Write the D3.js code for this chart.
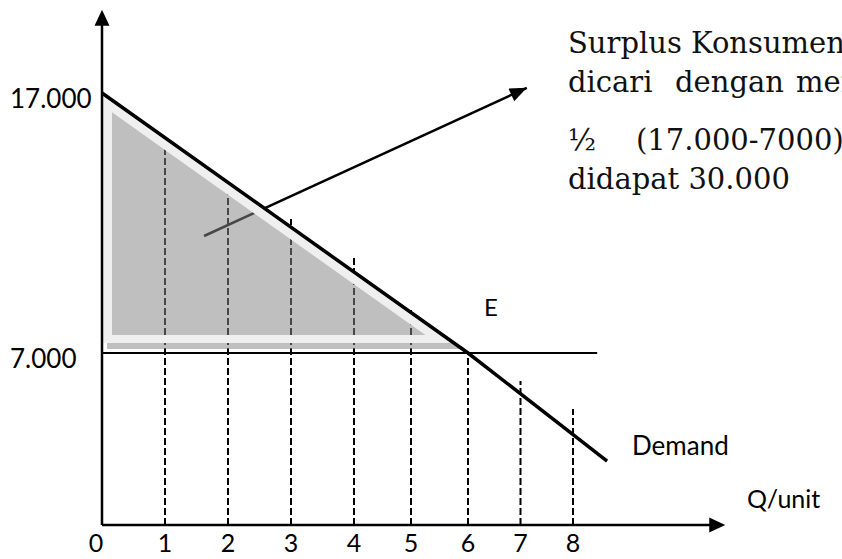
<!DOCTYPE html>
<html>
<head>
<meta charset="utf-8">
<script src="https://cdn.jsdelivr.net/npm/d3@7"></script>
<style>
  html, body { margin: 0; padding: 0; background: #fff; }
  svg { display: block; overflow: hidden; }
</style>
</head>
<body>
<div id="chart"></div>
<script>
// data
const qTicks = [0, 1, 2, 3, 4, 5, 6, 7, 8];
const priceTicks = [17000, 7000];
const priceLabels = ['17.000', '7.000'];
const dashQ = [1, 2, 3, 4, 5, 6, 7, 8];
const dashTop = [15000, 13400, 12150, 10650, 8650, 7000, 5860, 4720];
const demandQ = [0, 6, 8.65];
const demandP = [17000, 7000, 2600];
const eqPrice = 7000;
const eqQ = 6;
const priceLineEnd = 8.46;
const axisMaxQ = 10.9;
const axisMaxP = 20200;
const arrowFrom = [1.62, 11500];
const arrowTo = [7.12, 17200];
const noteLines = [
    ['Surplus Konsumen'],
    ['dicari', 'dengan', 'menggunakan'],
    ['½', '(17.000-7000)'],
    ['didapat 30.000']
];

const width = 842, height = 559;
const svg = d3.select('#chart').append('svg')
    .attr('width', width)
    .attr('height', height);

// hand drawn axes: spacing is not even, so piecewise scales
const x = d3.scaleLinear().domain([0, 4, 6, 8]).range([102, 354, 468, 573]);
const y = d3.scaleLinear().domain([0, 7000, 17000]).range([525, 353, 93]);

const labelFont = 'Lato, "Open Sans", sans-serif';
const noteFont = '"DejaVu Serif", serif';

// triangle of consumer surplus, shrunk by pixel insets
const A = [x(0), y(demandP[0])], B = [x(0), y(eqPrice)], C = [x(eqQ), y(eqPrice)];
function insetTri(l, b, h) {
    const len = Math.hypot(C[0] - A[0], C[1] - A[1]);
    const dx = (C[0] - A[0]) / len, dy = (C[1] - A[1]) / len;
    const ax = A[0] - dy * h, ay = A[1] + dx * h;
    const X = A[0] + l, Y = B[1] - b;
    const p1 = [X, ay + (X - ax) / dx * dy];
    const p3 = [ax + (Y - ay) / dy * dx, Y];
    return [p1, [X, Y], p3];
}
const polyPath = pts => 'M' + pts.map(p => p.join(',')).join('L') + 'Z';

const shadow = insetTri(5, 4, 0);
const lightOuter = insetTri(1, 10, 1);
const lightInner = insetTri(10, 18, 10);

svg.append('clipPath').attr('id', 'shade-clip')
    .append('path').attr('d', polyPath(shadow));

function drawDashes(g, color) {
    g.selectAll('line.dash')
        .data(dashQ)
        .enter()
        .append('line')
        .attr('class', 'dash')
        .attr('x1', d => x(d))
        .attr('x2', d => x(d))
        .attr('y1', y(0))
        .attr('y2', (d, i) => y(dashTop[i]))
        .attr('stroke', color)
        .attr('stroke-width', 2)
        .attr('stroke-dasharray', '7,3');
}

function drawPointer(g, color, w) {
    g.append('line')
        .attr('x1', x(arrowFrom[0]))
        .attr('y1', y(arrowFrom[1]))
        .attr('x2', x(arrowTo[0]))
        .attr('y2', y(arrowTo[1]))
        .attr('stroke', color)
        .attr('stroke-width', w);
}

function arrowHead(tip, from, len, half) {
    const a = Math.atan2(tip[1] - from[1], tip[0] - from[0]);
    const bx = tip[0] - Math.cos(a) * len, by = tip[1] - Math.sin(a) * len;
    const nx = -Math.sin(a) * half, ny = Math.cos(a) * half;
    svg.append('path')
        .attr('d', polyPath([tip, [bx + nx, by + ny], [bx - nx, by - ny]]))
        .attr('fill', '#000');
}

// dashed guides and pointer, under the shading
const under = svg.append('g');
drawDashes(under, '#000');
drawPointer(under, '#000', 2.5);

// shading
svg.append('path')
    .attr('d', polyPath(shadow))
    .attr('fill', '#bfbfbf');

const seen = svg.append('g').attr('clip-path', 'url(#shade-clip)');
drawDashes(seen, '#474747');
drawPointer(seen, '#474747', 2.5);

svg.append('path')
    .attr('d', polyPath(lightOuter) + polyPath(lightInner))
    .attr('fill', '#efefef')
    .attr('fill-rule', 'evenodd');

// pointer arrow head
arrowHead([x(arrowTo[0]), y(arrowTo[1])], [x(arrowFrom[0]), y(arrowFrom[1])], 17, 7);

// price line at equilibrium
svg.append('line')
    .attr('x1', x(0))
    .attr('x2', x(priceLineEnd))
    .attr('y1', y(eqPrice))
    .attr('y2', y(eqPrice))
    .attr('stroke', '#000')
    .attr('stroke-width', 2);

// demand curve
const demand = demandQ.map((q, i) => [q, demandP[i]]);
svg.append('path')
    .datum(demand)
    .attr('d', d3.line().x(d => x(d[0])).y(d => y(d[1])))
    .attr('fill', 'none')
    .attr('stroke', '#000')
    .attr('stroke-width', 3.5);

// axes
svg.append('line')
    .attr('x1', x(0)).attr('x2', x(0))
    .attr('y1', y(0)).attr('y2', y(axisMaxP) + 14)
    .attr('stroke', '#000').attr('stroke-width', 2.5);
arrowHead([x(0), y(axisMaxP)], [x(0), y(0)], 16, 7.5);

svg.append('line')
    .attr('x1', x(0)).attr('x2', x(axisMaxQ) - 14)
    .attr('y1', y(0)).attr('y2', y(0))
    .attr('stroke', '#000').attr('stroke-width', 2.5);
arrowHead([x(axisMaxQ), y(0)], [x(0), y(0)], 16, 7.5);

// tick labels
svg.selectAll('text.qtick')
    .data(qTicks)
    .enter()
    .append('text')
    .attr('class', 'qtick')
    .attr('x', d => d === 0 ? x(d) - 6 : x(d))
    .attr('y', 552)
    .attr('text-anchor', 'middle')
    .style('font-family', labelFont)
    .style('font-size', '25px')
    .text(d => d);

svg.selectAll('text.ptick')
    .data(priceTicks)
    .enter()
    .append('text')
    .attr('class', 'ptick')
    .attr('x', 10)
    .attr('y', d => y(d) + 15)
    .style('font-family', labelFont)
    .style('font-size', '26px')
    .text((d, i) => priceLabels[i]);

svg.append('text')
    .attr('x', 484).attr('y', 316)
    .style('font-family', labelFont)
    .style('font-size', '24px')
    .text('E');

svg.append('text')
    .attr('x', 632).attr('y', 455)
    .style('font-family', labelFont)
    .style('font-size', '26px')
    .text('Demand');

svg.append('text')
    .attr('x', 747).attr('y', 508)
    .style('font-family', labelFont)
    .style('font-size', '25px')
    .text('Q/unit');

// note, justified like the source
const wordX = [[568], [568, 675, 796], [568, 636], [568]];
const lineY = [53, 92, 150, 189];
noteLines.forEach((words, li) => {
    words.forEach((w, wi) => {
        svg.append('text')
            .attr('x', wordX[li][wi])
            .attr('y', lineY[li])
            .style('font-family', noteFont)
            .style('font-size', '29px')
            .style('fill', '#111')
            .text(w);
    });
});
</script>
</body>
</html>
